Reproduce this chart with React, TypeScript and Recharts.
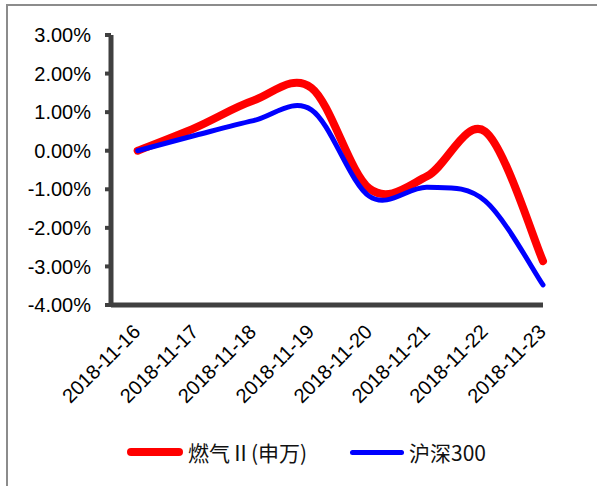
import React from "react";
import { LineChart, Line, XAxis, YAxis } from "recharts";

// 数据（百分比）
const dates = [
  "2018-11-16",
  "2018-11-17",
  "2018-11-18",
  "2018-11-19",
  "2018-11-20",
  "2018-11-21",
  "2018-11-22",
  "2018-11-23",
];
const gasValues = [0, 0.6, 1.3, 1.63, -0.98, -0.66, 0.5, -2.86];
const hs300Values = [0, 0.4, 0.78, 1.06, -1.18, -0.95, -1.3, -3.48];
const yTicks = [-4, -3, -2, -1, 0, 1, 2, 3];
const pointTicks = [0, 1, 2, 3, 4, 5, 6, 7];
const boundaryTicks = [0, 1, 2, 3, 4, 5, 6, 7, 8];

const data = dates.map((d, i) => ({
  idx: i,
  date: d,
  gas: gasValues[i],
  hs300: hs300Values[i],
}));

const AXIS = "#404040";
const FONT = "'Liberation Sans', Arial, sans-serif";

// Excel-like smoothed line (Catmull-Rom as cubic Bezier)
function excelSmooth(ctx: any) {
  let pts: number[][] = [];
  return {
    areaStart() {},
    areaEnd() {},
    lineStart() {
      pts = [];
    },
    point(x: number, y: number) {
      pts.push([+x, +y]);
    },
    lineEnd() {
      const n = pts.length;
      if (!n) return;
      ctx.moveTo(pts[0][0], pts[0][1]);
      for (let i = 0; i < n - 1; i++) {
        const p0 = pts[Math.max(i - 1, 0)];
        const p1 = pts[i];
        const p2 = pts[i + 1];
        const p3 = pts[Math.min(i + 2, n - 1)];
        ctx.bezierCurveTo(
          p1[0] + (p2[0] - p0[0]) / 6,
          p1[1] + (p2[1] - p0[1]) / 6,
          p2[0] - (p3[0] - p1[0]) / 6,
          p2[1] - (p3[1] - p1[1]) / 6,
          p2[0],
          p2[1]
        );
      }
    },
  };
}

const DateTick = ({ x, y, payload }: any) => {
  const tx = x + 4;
  const ty = y + 27;
  return (
    <text
      x={tx}
      y={ty}
      transform={`rotate(-45, ${tx}, ${ty})`}
      textAnchor="end"
      fill="#000"
      fontSize={20}
      fontFamily={FONT}
    >
      {dates[payload.value]}
    </text>
  );
};

function LegendItem({ color, thick, width, left, label }: { color: string; thick: number; width: number; left: number; label: string }) {
  return (
    <div style={{ position: "absolute", left, top: 440, height: 24, display: "flex", alignItems: "center" }}>
      <div style={{ width, height: thick, borderRadius: thick / 2, background: color, marginRight: 5 }} />
      <span style={{ fontSize: 21, fontFamily: "'Noto Sans CJK SC', sans-serif", color: "#111", lineHeight: "24px" }}>
        {label}
      </span>
    </div>
  );
}

export default function App() {
  return (
    <div style={{ position: "absolute", left: 0, top: 0, width: 597, height: 486, background: "#fff" }}>
      <div
        style={{
          position: "absolute",
          left: 6,
          top: 4,
          width: 591,
          height: 482,
          borderTop: "2px solid #8c8c8c",
          borderLeft: "2px solid #8c8c8c",
          boxSizing: "border-box",
        }}
      />
      <div style={{ position: "absolute", left: 0, top: 0 }}>
        <LineChart width={597} height={486} data={data} margin={{ top: 35, right: 54, bottom: 80, left: 8 }}>
          <XAxis
            xAxisId="ax"
            type="number"
            domain={[0, 8]}
            ticks={boundaryTicks}
            interval={0}
            height={1}
            tick={false}
            axisLine={{ stroke: AXIS, strokeWidth: 5 }}
            tickLine={{ stroke: AXIS, strokeWidth: 4 }}
            tickSize={6}
          />
          <XAxis
            xAxisId="pts"
            type="number"
            dataKey="idx"
            domain={[() => -0.461, () => 6.915]}
            ticks={pointTicks}
            interval={0}
            height={100}
            axisLine={false}
            tickLine={false}
            tickSize={0}
            tickMargin={0}
            tick={<DateTick />}
          />
          <YAxis
            type="number"
            domain={[-4, 3]}
            ticks={yTicks}
            interval={0}
            width={103}
            axisLine={{ stroke: AXIS, strokeWidth: 5 }}
            tickLine={{ stroke: AXIS, strokeWidth: 4 }}
            tickSize={6}
            tickMargin={14}
            tickFormatter={(v: number) => v.toFixed(2) + "%"}
            tick={{ fill: "#000", fontSize: 20, fontFamily: FONT }}
          />
          <Line
            xAxisId="pts"
            dataKey="gas"
            type={excelSmooth as any}
            stroke="#ff0000"
            strokeWidth={8}
            strokeLinecap="round"
            dot={false}
            activeDot={false}
            isAnimationActive={false}
          />
          <Line
            xAxisId="pts"
            dataKey="hs300"
            type={excelSmooth as any}
            stroke="#0000ff"
            strokeWidth={5}
            strokeLinecap="round"
            dot={false}
            activeDot={false}
            isAnimationActive={false}
          />
        </LineChart>
      </div>
      <LegendItem color="#ff0000" thick={8} width={56} left={127} label="燃气Ⅱ(申万)" />
      <LegendItem color="#0000ff" thick={5} width={54} left={350} label="沪深300" />
    </div>
  );
}
